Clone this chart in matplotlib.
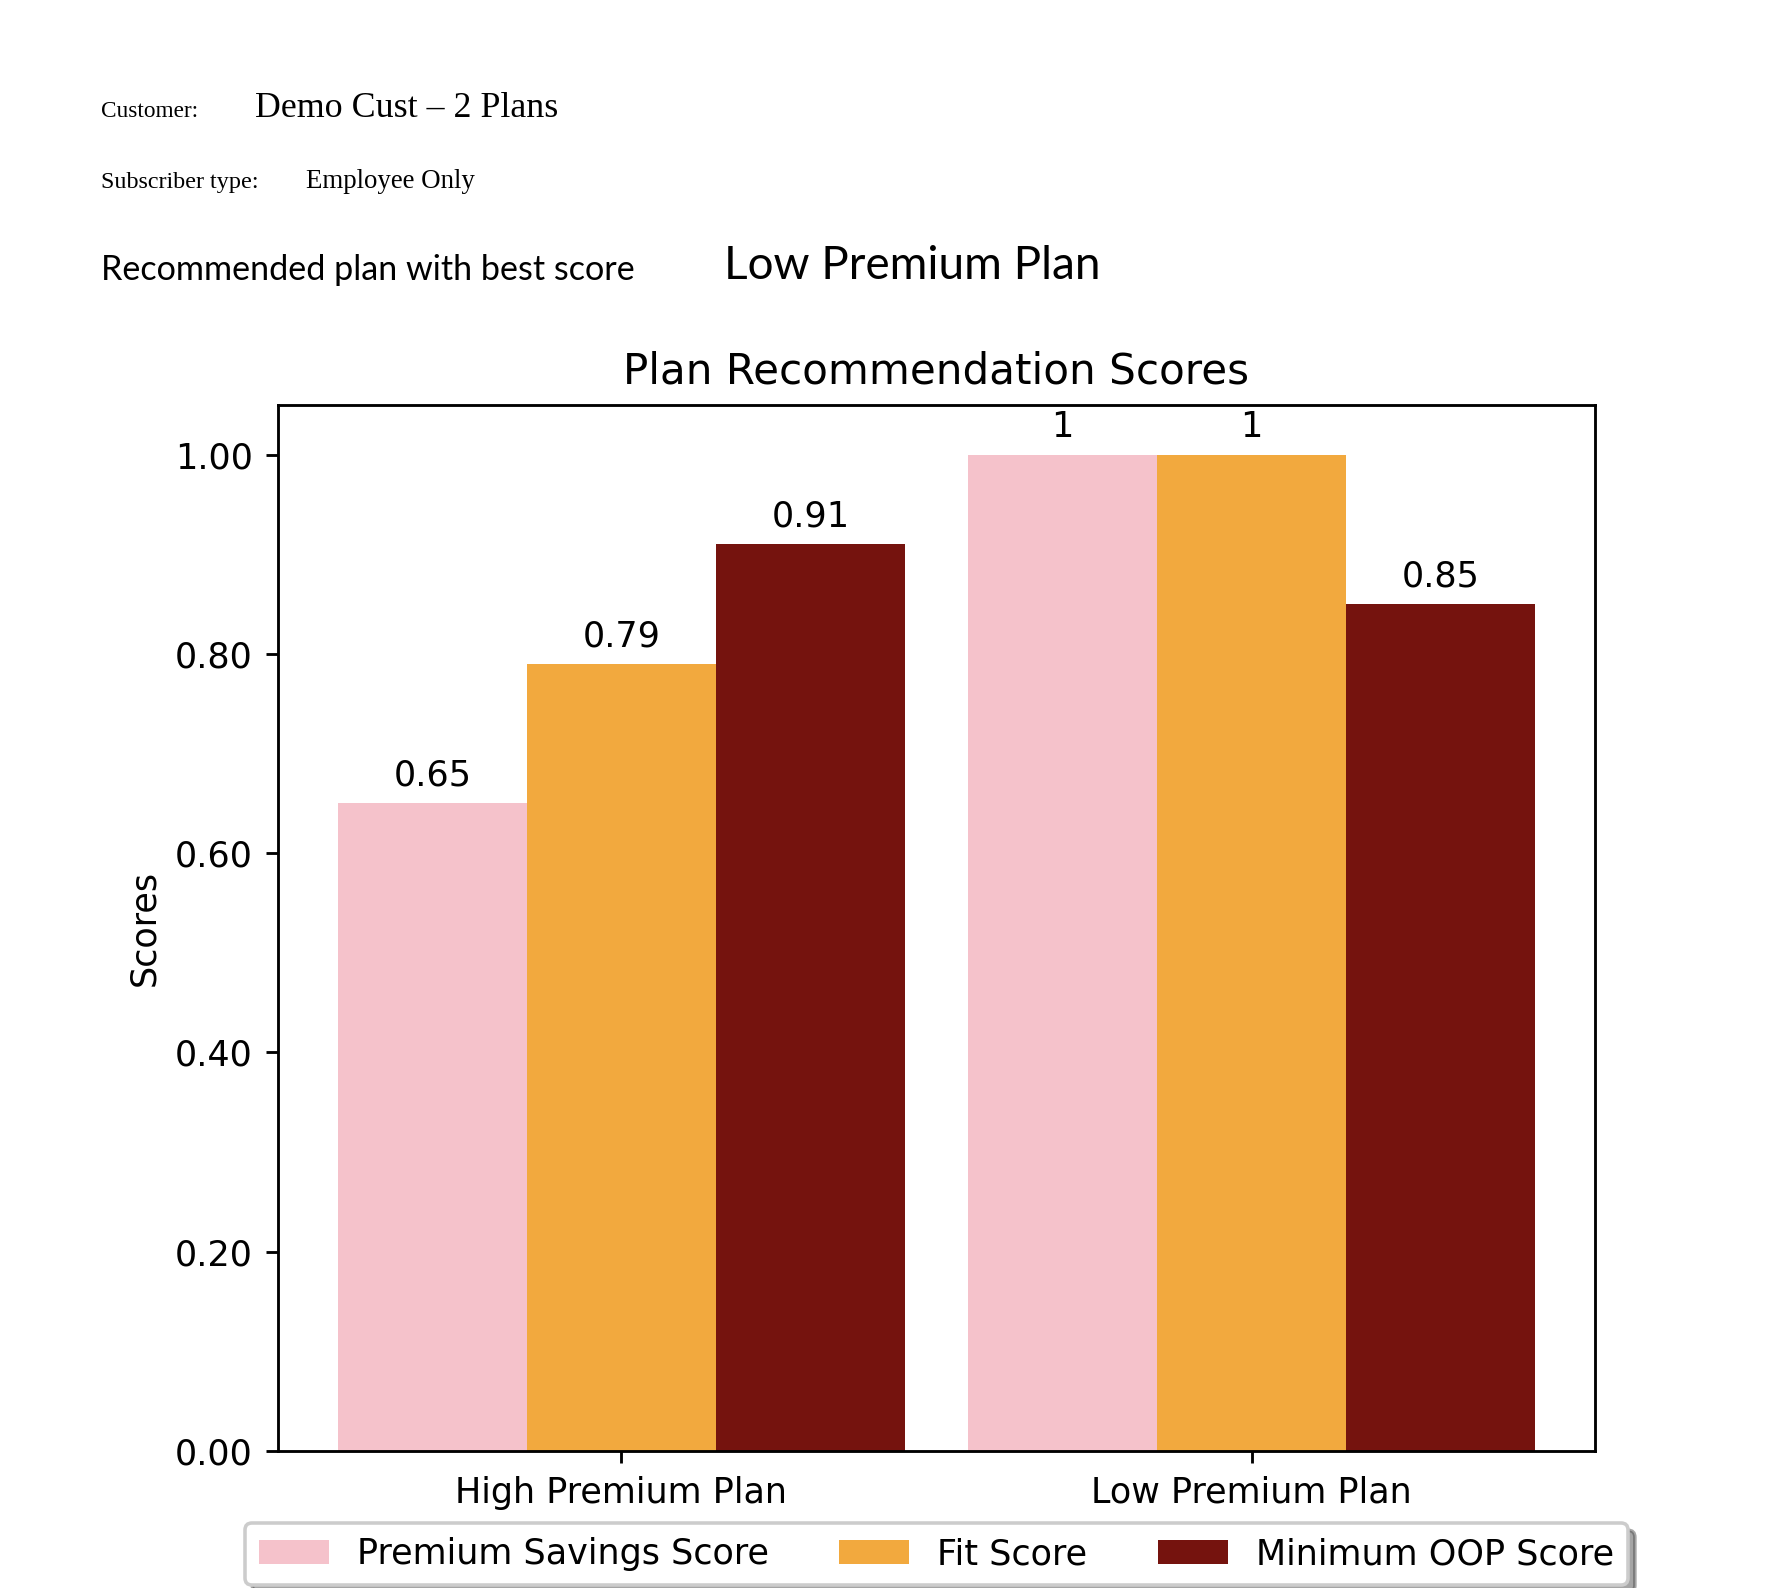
import numpy as np
import matplotlib
matplotlib.use('Agg')
import matplotlib.pyplot as plt
from matplotlib.ticker import FormatStrFormatter

# Data
plans = ['High Premium Plan', 'Low Premium Plan']
premium_savings = [0.65, 1]
fit_score = [0.79, 1]
min_oop = [0.91, 0.85]
series_names = ['Premium Savings Score', 'Fit Score', 'Minimum OOP Score']
colors = ['#F5C2CB', '#F2A93E', '#75130E']

customer = 'Demo Cust \u2013 2 Plans'
subscriber = 'Employee Only'
best_plan = 'Low Premium Plan'

# dpi chosen so matplotlib default sizes match the reference scale
dpi = 256
plt.rcParams['font.size'] = 9.85
fig = plt.figure(figsize=(1776 / dpi, 1588 / dpi), dpi=dpi)

# Header texts
serif = ['Liberation Serif', 'DejaVu Serif']
sans = ['Lato', 'DejaVu Sans']
fig.text(0.0569, 0.9263, 'Customer:', family=serif, fontsize=6.55, va='baseline')
fig.text(0.1436, 0.9263, customer, family=serif, fontsize=10.1, va='baseline')
fig.text(0.0569, 0.8816, 'Subscriber type:', family=serif, fontsize=6.8, va='baseline')
fig.text(0.1723, 0.8816, subscriber, family=serif, fontsize=7.55, va='baseline')
fig.text(0.0569, 0.8237, 'Recommended plan with best score', family=sans,
         fontsize=9.6, va='baseline')
fig.text(0.4075, 0.8243, best_plan, family=sans, fontsize=12.9, va='baseline')

# Bar chart
ax = fig.add_axes([0.1565, 0.0863, 0.7416, 0.6587])
x = np.arange(len(plans))
width = 0.3
for i, (vals, name) in enumerate(zip([premium_savings, fit_score, min_oop],
                                     series_names)):
    bars = ax.bar(x + (i - 1) * width, vals, width, label=name, color=colors[i])
    ax.bar_label(bars, padding=3)

ax.set_title('Plan Recommendation Scores', fontsize=11.8)
ax.set_ylabel('Scores')
ax.set_xticks(x)
ax.set_xticklabels(plans)
ax.yaxis.set_major_formatter(FormatStrFormatter('%.2f'))
ax.legend(loc='upper center', bbox_to_anchor=(0.5, -0.069), ncol=3,
          shadow=True, borderaxespad=0)

plt.savefig('out.png', dpi=dpi)
